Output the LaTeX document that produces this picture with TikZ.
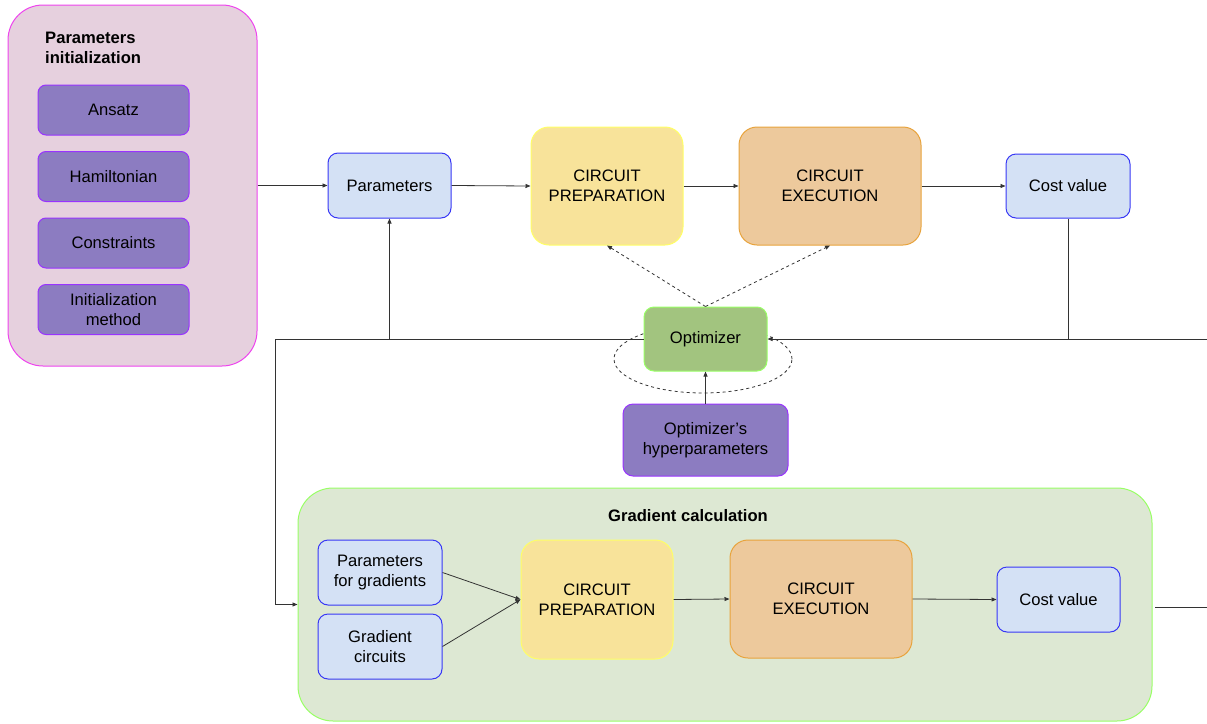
\documentclass[tikz,border=0pt]{standalone}
\usepackage{fontspec}
\setmainfont{Liberation Sans}
\usetikzlibrary{arrows.meta,positioning}
\definecolor{pinkfill}{HTML}{E6D0DE}
\definecolor{pinkline}{HTML}{EE44EE}
\definecolor{purfill}{HTML}{8C7CC1}
\definecolor{purline}{HTML}{9933FF}
\definecolor{bluefill}{HTML}{D4E1F5}
\definecolor{blueline}{HTML}{3838F5}
\definecolor{yelfill}{HTML}{F8E39A}
\definecolor{yelline}{HTML}{FFFF66}
\definecolor{orfill}{HTML}{EDC99C}
\definecolor{orline}{HTML}{E8A33C}
\definecolor{grfill}{HTML}{A2C47F}
\definecolor{grline}{HTML}{99FF66}
\definecolor{gbfill}{HTML}{DDE8D3}
\definecolor{linec}{HTML}{333333}
\begin{document}
\begin{tikzpicture}[x=1pt,y=-1pt,
  every node/.style={font=\fontsize{16.6}{20}\selectfont, align=center, inner sep=0pt},
  box/.style={draw, line width=1pt, rounded corners=#1},
  box/.default=9pt,
  purbox/.style={box=8pt, fill=purfill, draw=purline},
  bluebox/.style={box=10pt, fill=bluefill, draw=blueline},
  yelbox/.style={box=18pt, fill=yelfill, draw=yelline},
  orbox/.style={box=18pt, fill=orfill, draw=orline},
  arr/.style={draw=linec, line width=0.8pt, -{Triangle[length=5pt,width=4pt]}},
  plain/.style={draw=linec, line width=0.8pt},
  darr/.style={draw=linec, line width=0.8pt, dashed, dash pattern=on 3pt off 3pt, -{Triangle[length=5pt,width=4pt]}},
  title/.style={font=\fontsize{16.6}{20}\selectfont\bfseries}
]
\useasboundingbox (0,0) rectangle (1207,723);

% Parameters initialization group
\node[box=35pt, fill=pinkfill, draw=pinkline, minimum width=249pt, minimum height=361pt] (init) at (132.5,185.5) {};
\node[title, align=left, anchor=base west] (inittitle) at (45,63) {Parameters\\initialization};
\node[purbox, minimum width=151pt, minimum height=50pt] (ansatz) at (113.5,110) {Ansatz};
\node[purbox, minimum width=151pt, minimum height=50pt] (ham) at (113.5,176.5) {Hamiltonian};
\node[purbox, minimum width=151pt, minimum height=50pt] (cons) at (113.5,243) {Constraints};
\node[purbox, minimum width=151pt, minimum height=50pt] (meth) at (113.5,309.5) {Initialization\\method};

% top row
\node[bluebox, minimum width=123pt, minimum height=65pt] (params) at (389.5,185.5) {Parameters};
\node[yelbox, minimum width=152pt, minimum height=118pt] (prep) at (607,186) {CIRCUIT\\PREPARATION};
\node[orbox, minimum width=182pt, minimum height=118pt] (exec) at (830,186) {CIRCUIT\\EXECUTION};
\node[bluebox, minimum width=124pt, minimum height=64pt] (cost) at (1068,186) {Cost value};

% optimizer
\draw[linec, line width=0.8pt, dash pattern=on 3pt off 3pt] (703,359) ellipse [x radius=89pt, y radius=34pt];
\node[box=10pt, fill=grfill, draw=grline, minimum width=123pt, minimum height=64pt] (opt) at (705.5,339) {Optimizer};
\node[purbox, box=10pt, minimum width=165pt, minimum height=72pt] (hyp) at (705.5,440) {Optimizer’s\\hyperparameters};

% gradient calculation group
\node[box=35pt, fill=gbfill, draw=grline, minimum width=854pt, minimum height=233pt] (grad) at (725,604.5) {};
\node[title] (gradtitle) at (688,516) {Gradient calculation};
\node[bluebox, minimum width=124pt, minimum height=65pt] (pfg) at (380,572.5) {Parameters\\for gradients};
\node[bluebox, minimum width=124pt, minimum height=65pt] (gc) at (380,646.5) {Gradient\\circuits};
\node[yelbox, minimum width=152pt, minimum height=119pt] (prep2) at (597,599.5) {CIRCUIT\\PREPARATION};
\node[orbox, minimum width=182pt, minimum height=118pt] (exec2) at (821,599) {CIRCUIT\\EXECUTION};
\node[bluebox, minimum width=123pt, minimum height=65pt] (cost2) at (1058.5,599.5) {Cost value};

% coordinates
\coordinate (L) at (275,339);
\coordinate (R) at (1207,339);
\coordinate (B1) at (1155,607);
\coordinate (B2) at (1207,607);

% connectors top
\draw[arr] (init.east |- params.west) -- (params.west);
\draw[arr] (params.east) -- (prep.west);
\draw[arr] (prep.east) -- (exec.west);
\draw[arr] (exec.east) -- (cost.west);
\draw[plain] (cost.south) -- (cost.south |- R);
\draw[arr] (R) -- (opt.east);
\draw[plain] (opt.west) -- (L);
\draw[arr] (L) |- (grad.west);
\draw[arr] (params.south |- L) -- (params.south);
\draw[darr] (opt.north) -- (prep.south);
\draw[darr] (opt.north) -- (exec.south);
\draw[arr] (hyp.north) -- (opt.south);

% connectors bottom
\draw[arr] (pfg.east) -- (prep2.west);
\draw[arr] (gc.east) -- (prep2.west);
\draw[arr] (prep2.east) -- (exec2.west);
\draw[arr] (exec2.east) -- (cost2.west);
\draw[plain] (B1) -- (B2);
\end{tikzpicture}
\end{document}
